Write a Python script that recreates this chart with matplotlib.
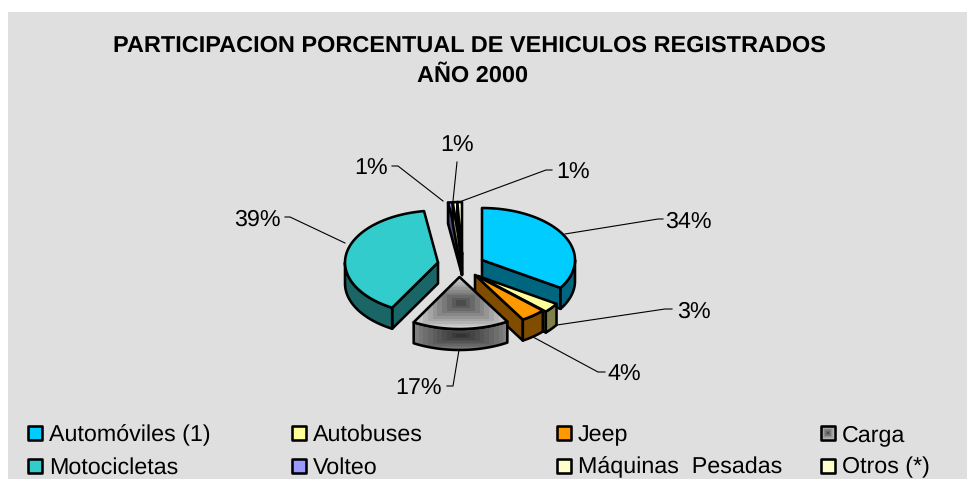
import numpy as np
import matplotlib
matplotlib.use("Agg")
import matplotlib.pyplot as plt
from matplotlib.patches import Polygon, Rectangle

plt.rcParams['font.family'] = ['Liberation Sans', 'DejaVu Sans']
plt.rcParams['text.hinting'] = 'no_hinting'
plt.rcParams['text.hinting_factor'] = 8

# ---- data ----
categories = ["Automóviles (1)", "Autobuses", "Jeep", "Carga",
              "Motocicletas", "Volteo", "Máquinas  Pesadas", "Otros (*)"]
values = [34.0, 3.0, 4.4, 16.8, 39.4, 0.8, 0.8, 0.8]
title_lines = ["PARTICIPACION PORCENTUAL DE VEHICULOS REGISTRADOS", "AÑO 2000"]

# ---- style / layout ----
top_colors = ["#00CCFF", "#FFFF99", "#FF9900", None, "#33CCCC", "#9999FF", "#FFFFCC", "#FFFFCC"]
side_colors = ["#006680", "#80804D", "#804D00", None, "#1A6666", "#4D4D80", "#808066", "#808066"]
apexes = [(482, 260), (478, 276), (475, 275), (459.5, 277), (438, 262.5), (462, 254), (462, 254), (462, 254)]
RX, RY, DEPTH = 93, 52, 21
leader_starts = [(565, 234), (557, 325), (533, 337), (459, 350), (345, 243), (443, 201), (453, 201), (462, 201)]
elbows = [(658, 219), (665, 309), (598, 372), (453, 386), (290, 217), (398, 166), (457, 162), (546, 170)]
tick_ends = [(663, 219), (672, 309), (605, 372), (447, 386), (285, 217), (392, 166), (457, 162), (552, 170)]
label_pos = [(665, 227.5), (677, 317.5), (607, 380.5), (442, 394.5), (280.5, 225.5), (388, 174.5), (457.5, 151.5), (556, 178.5)]
label_ha = ["left", "left", "left", "right", "right", "right", "center", "left"]
legend_cols = [27, 291, 556, 820]
legend_rows = [433, 465.5]
legend_base = [441, 473.5]
LW = 1.85
FS = 16.75
TITLE_FS = 16.9

fig = plt.figure(figsize=(9.67, 4.79), dpi=100)
fig.patch.set_facecolor("white")
ax = fig.add_axes([0, 0, 1, 1])
ax.set_xlim(0, 967)
ax.set_ylim(479, 0)
ax.axis("off")
ax.add_patch(Rectangle((8, 12), 959, 467, fc="#DFDFDF", ec="none", zorder=0))


def rim(c, th):
    return np.array([c[0] + RX * np.sin(th), c[1] - RY * np.cos(th)])


def gradient_fill(poly, lo, hi, z, steps=10):
    """Rectangular stepped gradient (dark centre, light edges) clipped to a polygon."""
    pts = np.asarray(poly)
    x0, y0 = pts.min(axis=0)
    x1, y1 = pts.max(axis=0)
    n = 120
    u, v = np.meshgrid(np.linspace(-1, 1, n), np.linspace(-1, 1, n))
    d = np.maximum(np.abs(u), np.abs(v))
    d = np.floor(d * steps) / (steps - 1)
    img = lo + (hi - lo) * np.clip(d, 0, 1)
    im = ax.imshow(img, extent=(x0, x1, y1, y0), cmap="gray", vmin=0, vmax=1,
                   interpolation="nearest", zorder=z, aspect="auto")
    clip = Polygon(pts, closed=True, transform=ax.transData, fc="none", ec="none")
    ax.add_patch(clip)
    im.set_clip_path(clip)
    ax.add_patch(Polygon(pts, closed=True, fc="none", ec="black", lw=LW, joinstyle="round", zorder=z + 0.1))


def face(poly, color, z, lo=0.3, hi=0.8):
    if color is None:
        gradient_fill(poly, lo, hi, z)
    else:
        ax.add_patch(Polygon(poly, closed=True, fc=color, ec="black", lw=LW, joinstyle="round", zorder=z))


total = sum(values)
edges = np.cumsum([0] + values) / total * 2 * np.pi
order = [5, 6, 7, 4, 0, 1, 2, 3]

for rank, i in enumerate(order):
    z = 10 + rank
    t1, t2 = edges[i], edges[i + 1]
    c = np.array(apexes[i], float)
    drop = np.array([0, DEPTH])
    if np.sin(t1) < -1e-6:      # visible start cut
        a = rim(c, t1)
        face([c, a, a + drop, c + drop], side_colors[i], z)
    if np.sin(t2) > 1e-6:       # visible end cut
        a = rim(c, t2)
        face([c, a, a + drop, c + drop], side_colors[i], z)
    lo_t, hi_t = max(t1, np.pi / 2), min(t2, 3 * np.pi / 2)
    if hi_t > lo_t:             # visible outer wall
        ts = np.linspace(lo_t, hi_t, 60)
        up = [rim(c, t) for t in ts]
        face(up + [p + drop for p in up[::-1]], side_colors[i], z, lo=0.2, hi=0.5)
    ts = np.linspace(t1, t2, 80)
    face([c] + [rim(c, t) for t in ts], top_colors[i], z + 0.3, lo=0.3, hi=0.82)

    # leader and label
    ax.plot([leader_starts[i][0], elbows[i][0], tick_ends[i][0]],
            [leader_starts[i][1], elbows[i][1], tick_ends[i][1]],
            color="black", lw=0.8, zorder=5)
    ax.text(label_pos[i][0], label_pos[i][1], f"{values[i]:.0f}%", fontsize=FS,
            ha=label_ha[i], va="baseline", zorder=31)

ax.text(469.5, 52, title_lines[0], fontsize=TITLE_FS, fontweight="bold", ha="center", va="baseline")
ax.text(472.5, 82, title_lines[1], fontsize=TITLE_FS, fontweight="bold", ha="center", va="baseline")

for k, name in enumerate(categories):
    row, col = divmod(k, 4)
    x, y = legend_cols[col], legend_rows[row]
    sq = [(x + 1, y - 7), (x + 15, y - 7), (x + 15, y + 7), (x + 1, y + 7)]
    face(sq, top_colors[k], 40, lo=0.3, hi=0.8)
    ax.text(x + 22, legend_base[row], name, fontsize=FS, ha="left", va="baseline", zorder=41)

ax.set_xlim(0, 967)
ax.set_ylim(479, 0)
fig.savefig("out.png", dpi=100)
